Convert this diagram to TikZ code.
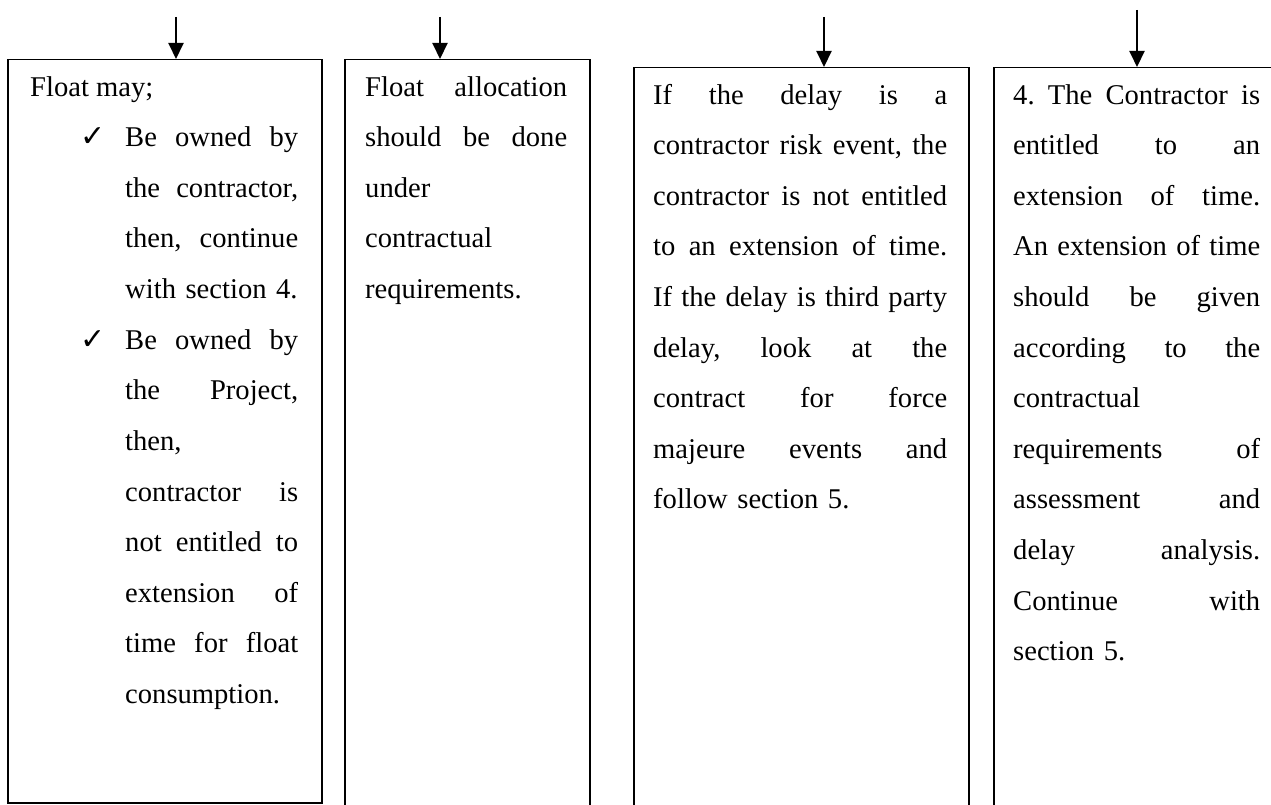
\documentclass[tikz,border=0pt]{standalone}
\usepackage{fontspec}
\setmainfont{Liberation Serif}
\newfontfamily\checkfont{DejaVu Sans}
\usetikzlibrary{arrows.meta}
\setlength{\parindent}{0pt}
\frenchspacing
% justified line: every word gap takes an equal share of the spare width
\newcommand\jline[1]{\leavevmode\hbox to\hsize{\spaceskip=0.25em plus 1fil\relax
  \xspaceskip=\spaceskip\rule{0pt}{24pt}#1}\par}
% left-aligned line
\newcommand\lline[1]{\leavevmode\hbox to\hsize{\rule{0pt}{24pt}#1\hfil}\par}
\tikzset{
  box/.style={draw=black, line width=1.5pt, inner sep=0pt, anchor=north west},
  txt/.style={inner sep=0pt, anchor=north west,
    font=\fontsize{28.6}{50.6}\selectfont},
  tick/.style={inner sep=0pt, anchor=base west,
    font=\checkfont\fontsize{30}{32}\selectfont},
  flow/.style={line width=2pt, -{Triangle[length=16pt,width=15pt]}}
}
\begin{document}
\begin{tikzpicture}[x=1pt,y=-1pt]
\useasboundingbox (0,0) rectangle (1271,805);
\clip (0,0) rectangle (1271,805);

% boxes
\node[box, minimum width=314pt, minimum height=743pt] (b1) at (7,59) {};
\node[box, minimum width=245pt, minimum height=800pt] (b2) at (344,59) {};
\node[box, minimum width=335pt, minimum height=800pt] (b3) at (633,67) {};
\node[box, minimum width=289pt, minimum height=800pt] (b4) at (993,67) {};

% incoming arrows
\coordinate (a1) at (176,17);
\coordinate (a2) at (440,17);
\coordinate (a3) at (824,17);
\coordinate (a4) at (1137,10);
\draw[flow] (a1) -- (a1 |- b1.north);
\draw[flow] (a2) -- (a2 |- b2.north);
\draw[flow] (a3) -- (a3 |- b3.north);
\draw[flow] (a4) -- (a4 |- b4.north);

% box 1
\node[txt] (t1) at (30,72) {\rule{0pt}{24pt}Float may;};
\node[tick] (k1) at (80,147) {✓};
\node[txt, text width=173pt] (t1a) at (125,122.6) {%
\jline{Be owned by}
\jline{the contractor,}
\jline{then, continue}
\lline{with section 4.}};
\node[tick] (k2) at (80,349) {✓};
\node[txt, text width=173pt] (t1b) at (125,325) {%
\jline{Be owned by}
\jline{the Project,}
\lline{then,}
\jline{contractor is}
\jline{not entitled to}
\jline{extension of}
\jline{time for float}
\lline{consumption.}};

% box 2
\node[txt, text width=202pt] (t2) at (365,72) {%
\jline{Float allocation}
\jline{should be done}
\lline{under}
\lline{contractual}
\lline{requirements.}};

% box 3
\node[txt, text width=294pt] (t3) at (653,80) {%
\jline{If the delay is a}
\jline{contractor risk event, the}
\jline{contractor is not entitled}
\jline{to an extension of time.}
\jline{If the delay is third party}
\jline{delay, look at the}
\jline{contract for force}
\jline{majeure events and}
\lline{follow section 5.}};

% box 4
\node[txt, text width=247pt] (t4) at (1013,80) {%
\jline{4. The Contractor is}
\jline{entitled to an}
\jline{extension of time.}
\jline{An extension of time}
\jline{should be given}
\jline{according to the}
\lline{contractual}
\jline{requirements of}
\jline{assessment and}
\jline{delay analysis.}
\jline{Continue with}
\lline{section 5.}};
\end{tikzpicture}
\end{document}
